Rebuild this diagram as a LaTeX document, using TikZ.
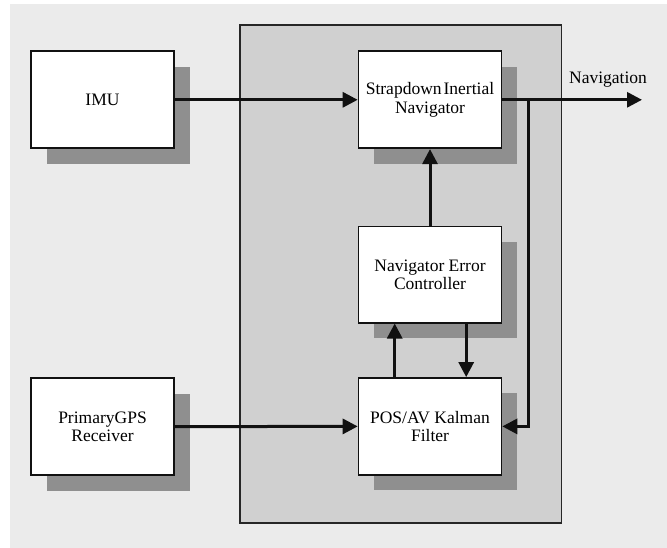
\documentclass[tikz,border=0pt]{standalone}
\usepackage{fontspec}
\setmainfont{Liberation Serif}
\newfontfamily\blockfont{Liberation Serif}
\usetikzlibrary{arrows.meta,shadows}
\definecolor{bgc}{HTML}{EBEBEB}
\definecolor{panelc}{HTML}{D0D0D0}
\definecolor{shadowc}{HTML}{8F8F8F}
\definecolor{linec}{HTML}{111111}
\begin{document}
\begin{tikzpicture}[x=1pt,y=-1pt,
  blockbox/.style={draw=linec, line width=1.6pt, fill=white, minimum width=143pt, minimum height=97pt,
    inner sep=0pt, align=center, font=\blockfont\fontsize{17.5}{18.5}\selectfont,
    drop shadow={shadow xshift=15.5pt, shadow yshift=-15.5pt, fill=shadowc, opacity=1}},
  arr/.style={draw=linec, line width=3pt, -{Triangle[length=15pt,width=15pt]}}]
\useasboundingbox (0,0) rectangle (667,548);
\fill[white] (0,0) rectangle (667,548);
\fill[bgc] (10,4) rectangle (667,548);
\draw[draw=black!85, line width=1.5pt, fill=panelc] (240,25) rectangle (561.5,523);
\node[blockbox] (imu) at (102.5,99.8) {IMU};
\node[blockbox] (sin) at (430,99.8) {Strapdown\hspace{2pt}Inertial\\Navigator};
\node[blockbox, minimum height=96pt] (nec) at (430,274.7) {Navigator Error\\Controller};
\node[blockbox] (kf) at (430,426.4) {POS/AV Kalman\\Filter};
\node[blockbox] (gps) at (102.5,426.6) {PrimaryGPS\\Receiver};
\node[font=\blockfont\fontsize{17.5}{18.5}\selectfont] (navlbl) at (608,79.5) {Navigation};
\coordinate (navend) at (642,99.8);
\coordinate (fb) at (528.3,99.8);
\draw[arr] (imu.east) -- (sin.west);
\draw[arr] (gps.east) -- (kf.west);
\draw[arr] (nec.north) -- (sin.south);
\draw[arr] ([xshift=-35.3pt]kf.north) -- ([xshift=-35.3pt]nec.south);
\draw[arr] ([xshift=36.2pt]nec.south) -- ([xshift=36.2pt]kf.north);
\draw[arr] (sin.east) -- (navend);
\draw[arr] (fb) |- (kf.east);
\end{tikzpicture}
\end{document}
